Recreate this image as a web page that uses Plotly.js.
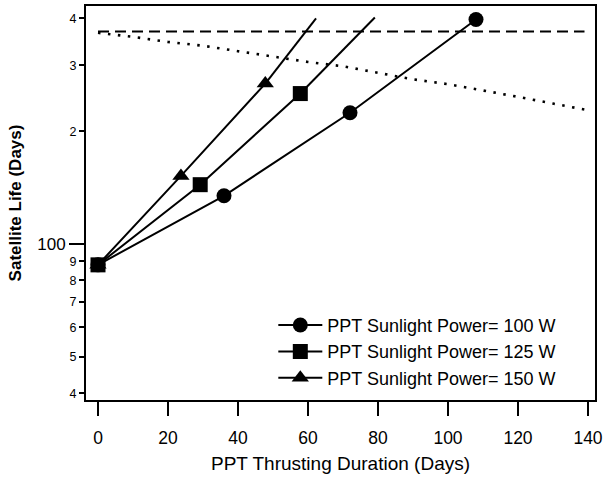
<!DOCTYPE html>
<html>
<head>
<meta charset="utf-8">
<script src="https://cdn.plot.ly/plotly-3.0.1.min.js"></script>
<style>html,body{margin:0;padding:0;background:#fff;}#chart{width:603px;height:478px;}</style>
</head>
<body>
<div id="chart"></div>
<script>
// Series data
const seriesNames = ["PPT Sunlight Power= 100 W", "PPT Sunlight Power= 125 W", "PPT Sunlight Power= 150 W"];
const days100 = [0, 36, 72, 108];
const life100 = [88, 134.5, 224, 397];
const days125 = [0, 29.2, 57.8, 79.1];
const life125 = [88, 144, 252, 402];
const days150 = [0, 23.7, 47.8, 62.3];
const life150 = [88, 152, 268, 400];
// reference lines
const dashDays = [0, 139];
const dashLife = [369, 369];
const dotDays = [0, 10, 20, 30, 40, 50, 60, 70, 80, 90, 100, 110, 120, 130, 139.5];
const dotLife = [366, 357, 346, 338, 327, 316, 306, 298, 286, 275, 267, 257, 247, 237, 228];
// tick labels
const xTicks = [0, 20, 40, 60, 80, 100, 120, 140];
const yMinorVals = [40, 50, 60, 70, 80, 90, 200, 300, 400];
const yMinorText = ["4", "5", "6", "7", "8", "9", "2", "3", "4"];
const yMajorVals = [100];
const yMajorText = ["100"];

const FONT = "Liberation Sans, Arial, Helvetica, sans-serif";
const lineStyle = {color: "#000", width: 2};
const yRange = [1.584, 2.635];

const traces = [
  {x: dotDays, y: dotLife, mode: "lines", line: {color: "#000", width: 2.6, dash: "2.5px,7.5px"}, showlegend: false, hoverinfo: "skip"},
  {x: dashDays, y: dashLife, yaxis: "y2", mode: "lines", line: {color: "#000", width: 2, dash: "11px,6px"}, showlegend: false, hoverinfo: "skip"},
  {x: days100, y: life100, mode: "lines+markers", name: seriesNames[0], line: lineStyle, marker: {symbol: "circle", size: 15, color: "#000"}},
  {x: days125.slice(0, 3), y: life125.slice(0, 3), mode: "lines+markers", name: seriesNames[1], line: lineStyle, marker: {symbol: "square", size: 15, color: "#000"}},
  {x: days125.slice(2), y: life125.slice(2), mode: "lines", line: lineStyle, showlegend: false},
  {x: days150.slice(0, 3), y: life150.slice(0, 3), mode: "lines+markers", name: seriesNames[2], line: lineStyle, marker: {symbol: "triangle-up", size: 15, color: "#000"}},
  {x: days150.slice(2), y: life150.slice(2), mode: "lines", line: lineStyle, showlegend: false}
];

const layout = {
  width: 603, height: 478,
  margin: {l: 86, r: 8, t: 6, b: 78},
  paper_bgcolor: "#fff", plot_bgcolor: "#fff",
  font: {family: FONT, color: "#000", size: 16},
  showlegend: true,
  legend: {x: 0.368, xanchor: "left", y: 0.008, yanchor: "bottom", bgcolor: "rgba(0,0,0,0)",
           itemwidth: 44, font: {family: FONT, size: 18, color: "#000"}, tracegroupgap: 0},
  xaxis: {
    range: [-3.43, 142], tickvals: xTicks, ticks: "outside", ticklen: 14, tickwidth: 2, tickcolor: "#000",
    showline: true, linewidth: 2, linecolor: "#000", mirror: true, showgrid: false, zeroline: false,
    tickfont: {family: FONT, size: 17.5}, ticklabelstandoff: 7, ticklabeloverflow: "allow",
    title: {text: "PPT Thrusting Duration (Days)", font: {family: FONT, size: 19}, standoff: 10}
  },
  yaxis: {
    type: "log", range: yRange, tickvals: yMinorVals, ticktext: yMinorText,
    ticks: "outside", ticklen: 5, tickwidth: 2, tickcolor: "#000",
    showline: true, linewidth: 2, linecolor: "#000", mirror: true, showgrid: false, zeroline: false,
    tickfont: {family: FONT, size: 12.5},
    title: {text: "<b>Satellite Life (Days)</b>", font: {family: FONT, size: 17}, standoff: 44}
  },
  yaxis2: {
    type: "log", range: yRange, overlaying: "y", side: "left", anchor: "x",
    tickvals: yMajorVals, ticktext: yMajorText, ticks: "outside", ticklen: 16, tickwidth: 2, tickcolor: "#000",
    showline: false, showgrid: false, zeroline: false, tickfont: {family: FONT, size: 17}
  }
};

Plotly.newPlot("chart", traces, layout, {displayModeBar: false, staticPlot: true});
</script>
</body>
</html>
